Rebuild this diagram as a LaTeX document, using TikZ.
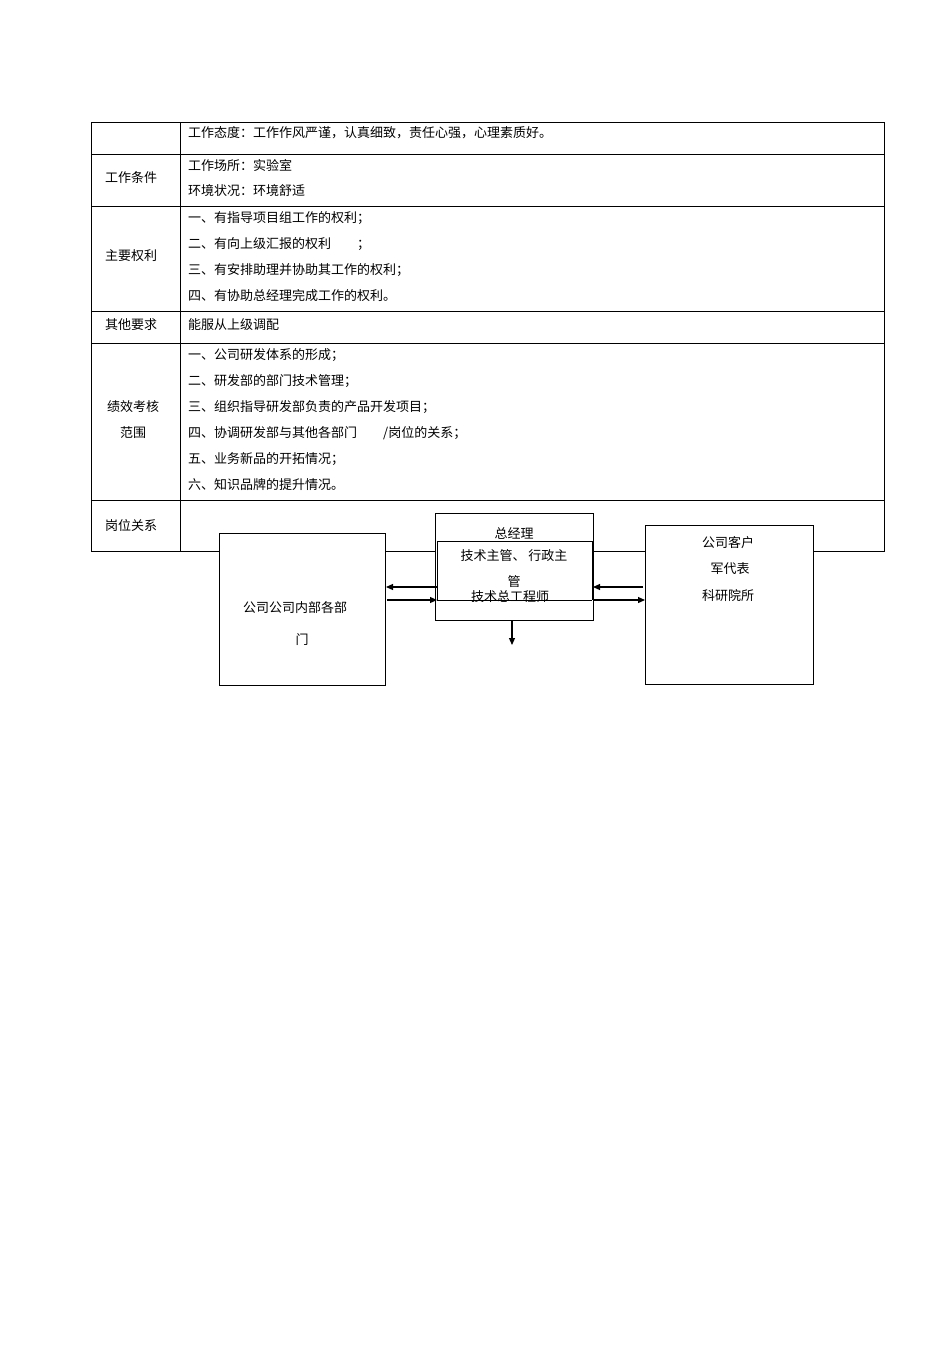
\documentclass[tikz,border=0pt]{standalone}
\usepackage{fontspec}
\setmainfont{Noto Sans CJK SC}
\usetikzlibrary{arrows.meta}
\begin{document}
\begin{tikzpicture}[x=1pt,y=-1pt,
  t/.style={anchor=west,inner sep=0pt,font=\fontsize{13}{15}\selectfont},
  c/.style={inner sep=0pt,font=\fontsize{13}{15}\selectfont},
  ln/.style={line width=0.8pt},
  ar/.style={line width=1.2pt,-{Triangle[length=7pt,width=6pt]}}]
\useasboundingbox[fill=white] (0,0) rectangle (950,1345);
% table
\draw[ln] (91,122) rectangle (884,551);
\draw[ln] (180,122) -- (180,551);
\foreach \y in {154,206,311,343,500} \draw[ln] (91,\y) -- (884,\y);
\node[t] (r1) at (188,133) {工作态度：工作作风严谨，认真细致，责任心强，心理素质好。};
\node[t] (r2) at (188,166) {工作场所：实验室};
\node[t] (r3) at (188,191) {环境状况：环境舒适};
\node[t] (r4) at (188,218) {一、有指导项目组工作的权利；};
\node[t] (r5) at (188,244) {二、有向上级汇报的权利\hspace{2em}；};
\node[t] (r6) at (188,270) {三、有安排助理并协助其工作的权利；};
\node[t] (r7) at (188,296) {四、有协助总经理完成工作的权利。};
\node[t] (r8) at (188,325) {能服从上级调配};
\node[t] (r9) at (188,355) {一、公司研发体系的形成；};
\node[t] (r10) at (188,381) {二、研发部的部门技术管理；};
\node[t] (r11) at (188,407) {三、组织指导研发部负责的产品开发项目；};
\node[t] (r12) at (188,433) {四、协调研发部与其他各部门\hspace{2em}/岗位的关系；};
\node[t] (r13) at (188,459) {五、业务新品的开拓情况；};
\node[t] (r14) at (188,485) {六、知识品牌的提升情况。};
\node[c] (l1) at (131,178) {工作条件};
\node[c] (l2) at (131,256) {主要权利};
\node[c] (l3) at (131,325) {其他要求};
\node[c] (l4) at (133,407) {绩效考核};
\node[c] (l5) at (133,433) {范围};
\node[c] (l6) at (131,525) {岗位关系};
% diagram
\draw[ln,fill=white] (219,533) rectangle (385,685);
\draw[ln,fill=white] (645,525) rectangle (813,684);
\draw[ln,fill=white] (435,513) rectangle (593,620);
\draw[ln] (437,541) -- (592,541);
\draw[ln] (437,541) -- (437,600);
\draw[ln] (592,541) -- (592,600);
\draw[ln] (437,600) -- (592,600);
\node[c] (gm) at (514,533) {总经理};
\node[c] (tm1) at (514,556) {技术主管、 行政主};
\node[c] (tm2) at (514,582) {管};
\node[c] (ce) at (510,597) {技术总工程师};
\node[c] (ld1) at (295,608) {公司公司内部各部};
\node[c] (ld2) at (302,640) {门};
\node[c] (rc1) at (728,543) {公司客户};
\node[c] (rc2) at (730,569) {军代表};
\node[c] (rc3) at (728,596) {科研院所};
\coordinate (la1) at (437,587); \coordinate (la2) at (386,587);
\coordinate (lb1) at (387,600); \coordinate (lb2) at (437,600);
\coordinate (ra1) at (643,587); \coordinate (ra2) at (593,587);
\coordinate (rb1) at (593,600); \coordinate (rb2) at (645,600);
\coordinate (d1) at (512,620); \coordinate (d2) at (512,645);
\draw[ar] (la1) -- (la2);
\draw[ar] (lb1) -- (lb2);
\draw[ar] (ra1) -- (ra2);
\draw[ar] (rb1) -- (rb2);
\draw[ar] (d1) -- (d2);
\end{tikzpicture}
\end{document}
